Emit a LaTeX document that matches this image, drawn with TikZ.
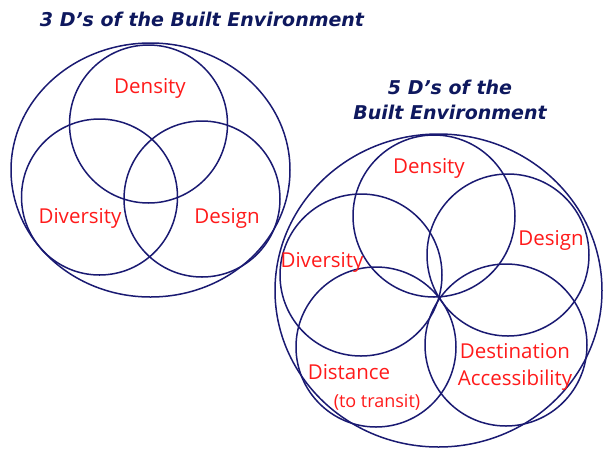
\documentclass[tikz,border=0pt]{standalone}
\usepackage{fontspec}
\setmainfont{Open Sans}
\newfontfamily\titlefont{DejaVu Sans}
\definecolor{ringnavy}{HTML}{1A1A72}
\definecolor{titlenavy}{HTML}{0E185E}
\definecolor{labred}{HTML}{FF1A1A}
\begin{document}
\begin{tikzpicture}[x=1pt,y=-1pt,
  ring/.style={draw=ringnavy,line width=1.5pt},
  lbl/.style={text=labred,font=\fontsize{20.5}{27}\selectfont,inner sep=0pt},
  small/.style={text=labred,font=\fontsize{18}{20}\selectfont,inner sep=0pt},
  ttl/.style={text=titlenavy,font=\titlefont\bfseries\itshape\fontsize{19}{25}\selectfont,inner sep=0pt,align=center}]
\useasboundingbox (0,0) rectangle (603,448);
% left diagram
\draw[ring] (150.5,170) ellipse [x radius=139.5, y radius=127];
\draw[ring] (148.5,124) circle [radius=79];
\draw[ring] (99.5,197) circle [radius=78];
\draw[ring] (202,199) circle [radius=78];
\node[ttl] (t3) at (202,19) {3 D’s of the Built Environment};
\node[lbl] (l-den) at (150,88) {Density};
\node[lbl] (l-div) at (80,218) {Diversity};
\node[lbl] (l-des) at (227,218) {Design};
% right diagram
\draw[ring] (438.5,290.5) ellipse [x radius=163.5, y radius=156.5];
\coordinate (hub) at (440,297);
\draw[ring] (434,216) circle [radius=81];
\draw[ring] (508,255) circle [radius=81];
\draw[ring] (361,275) circle [radius=81];
\draw[ring] (376,347) circle [radius=80];
\draw[ring] (506,345) circle [radius=81];
\node[ttl] (t5) at (450,100) {5 D’s of the\\Built Environment};
\node[lbl] (r-den) at (429,168) {Density};
\node[lbl] (r-des) at (551,240) {Design};
\node[lbl] (r-div) at (322,262) {Diversity};
\node[lbl] (r-dis) at (349,372) {Distance};
\node[small] (r-tt) at (377,402) {(to transit)};
\node[lbl,align=center] (r-dst) at (515,367) {Destination\\Accessibility};
\end{tikzpicture}
\end{document}
